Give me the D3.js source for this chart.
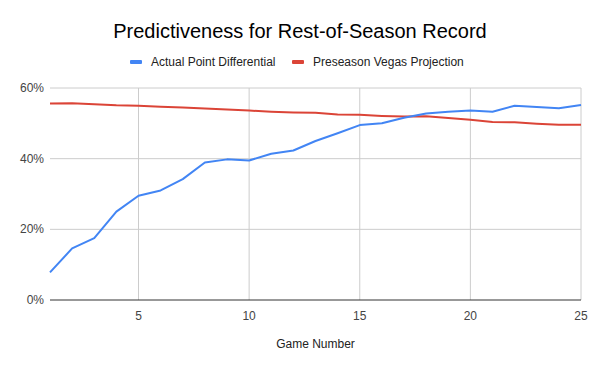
<!DOCTYPE html>
<html>
<head>
<meta charset="utf-8">
<script src="https://cdn.jsdelivr.net/npm/d3@7"></script>
<style>
  body { margin: 0; background: #fff; }
  svg text { font-family: "Liberation Sans", Arial, sans-serif; }
</style>
</head>
<body>
<div id="chart"></div>
<script>
const games = d3.range(1, 26);
const actualPointDiff = [7.8, 14.6, 17.5, 25.0, 29.5, 31.0, 34.2, 38.9, 39.8, 39.5, 41.4, 42.3, 45.0, 47.2, 49.5, 50.0, 51.6, 52.8, 53.3, 53.6, 53.3, 55.0, 54.6, 54.3, 55.2];
const vegasProjection = [55.6, 55.7, 55.4, 55.1, 55.0, 54.7, 54.5, 54.2, 53.9, 53.6, 53.3, 53.1, 53.0, 52.5, 52.4, 52.1, 51.9, 52.0, 51.5, 51.0, 50.4, 50.3, 49.9, 49.6, 49.6];
const xTicks = [5, 10, 15, 20, 25];
const yTicks = [0, 20, 40, 60];
const seriesNames = ["Actual Point Differential", "Preseason Vegas Projection"];
const seriesColors = ["#4285f4", "#db4437"];

const width = 600, height = 371;
const margin = { top: 88, right: 19, bottom: 71, left: 50 };

const svg = d3.select("#chart").append("svg")
  .attr("width", width)
  .attr("height", height);

const x = d3.scaleLinear().domain([1, 25]).range([margin.left, width - margin.right]);
const y = d3.scaleLinear().domain([0, 60]).range([height - margin.bottom, margin.top]);

// title
svg.append("text")
  .attr("x", 300)
  .attr("y", 38)
  .attr("text-anchor", "middle")
  .attr("font-size", 20)
  .attr("fill", "#000")
  .text("Predictiveness for Rest-of-Season Record");

// legend
const legendItems = [
  { name: seriesNames[0], color: seriesColors[0], x: 130 },
  { name: seriesNames[1], color: seriesColors[1], x: 292 }
];
const lg = svg.selectAll(".legend").data(legendItems).join("g")
  .attr("class", "legend")
  .attr("transform", d => `translate(${d.x},62)`);
lg.append("rect")
  .attr("x", 0).attr("y", -2)
  .attr("width", 12).attr("height", 4)
  .attr("rx", 1)
  .attr("fill", d => d.color);
lg.append("text")
  .attr("x", 21).attr("y", 4)
  .attr("font-size", 12)
  .attr("fill", "#222")
  .text(d => d.name);

// grid
svg.append("g").selectAll("line.h")
  .data(yTicks.filter(d => d > 0))
  .join("line")
  .attr("x1", margin.left).attr("x2", width - margin.right)
  .attr("y1", d => y(d)).attr("y2", d => y(d))
  .attr("stroke", "#cccccc");

svg.append("g").selectAll("line.v")
  .data(xTicks)
  .join("line")
  .attr("x1", d => x(d)).attr("x2", d => x(d))
  .attr("y1", y(60)).attr("y2", y(0))
  .attr("stroke", "#cccccc");

// y labels
svg.append("g").selectAll("text")
  .data(yTicks)
  .join("text")
  .attr("x", margin.left - 6)
  .attr("y", d => y(d) + 4)
  .attr("text-anchor", "end")
  .attr("font-size", 12)
  .attr("fill", "#444")
  .text(d => d + "%");

// x labels
svg.append("g").selectAll("text")
  .data(xTicks)
  .join("text")
  .attr("x", d => x(d))
  .attr("y", y(0) + 20)
  .attr("text-anchor", "middle")
  .attr("font-size", 12)
  .attr("fill", "#444")
  .text(d => d);

// baseline
svg.append("line")
  .attr("x1", margin.left).attr("x2", width - margin.right)
  .attr("y1", y(0)).attr("y2", y(0))
  .attr("stroke", "#333");

// axis title
svg.append("text")
  .attr("x", (margin.left + width - margin.right) / 2)
  .attr("y", 348)
  .attr("text-anchor", "middle")
  .attr("font-size", 12)
  .attr("fill", "#222")
  .text("Game Number");

// lines
const line = d3.line()
  .x((d, i) => x(games[i]))
  .y(d => y(d));

[vegasProjection, actualPointDiff].forEach((s, k) => {
  svg.append("path")
    .datum(s)
    .attr("d", line)
    .attr("fill", "none")
    .attr("stroke", k === 0 ? seriesColors[1] : seriesColors[0])
    .attr("stroke-width", 2)
    .attr("stroke-linejoin", "round");
});
</script>
</body>
</html>
